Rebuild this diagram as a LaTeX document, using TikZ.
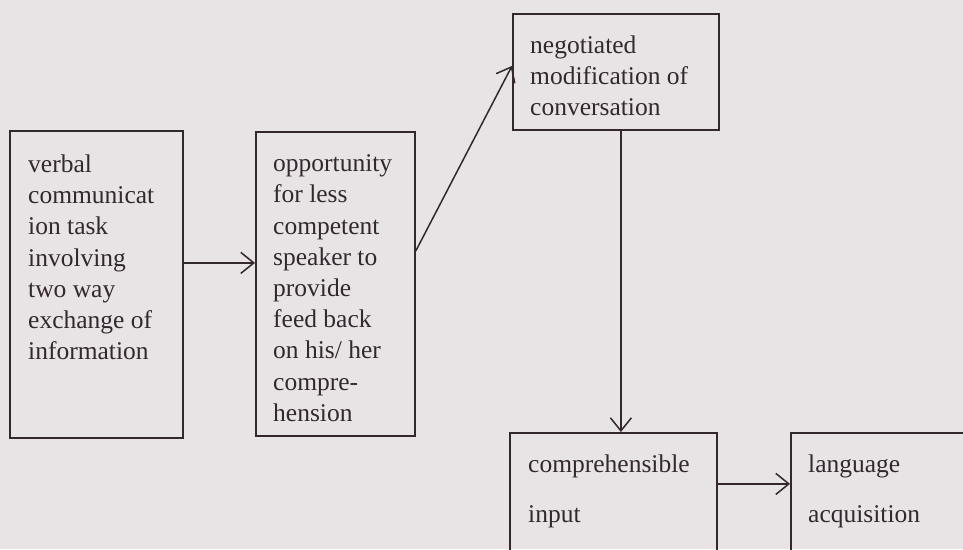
\documentclass[tikz,border=0pt]{standalone}
\usepackage{fontspec}
\setmainfont{Liberation Serif}
\usetikzlibrary{arrows.meta}
\definecolor{paper}{RGB}{232,228,230}
\definecolor{ink}{RGB}{50,40,46}
\tikzset{
  box/.style={draw=ink, line width=1.8pt, anchor=north west, inner sep=0pt},
  txt/.style={anchor=north west, inner sep=0pt, align=left, text=ink,
    font=\fontsize{25.5}{31.2}\selectfont},
  widetxt/.style={txt, font=\fontsize{25.5}{50}\selectfont},
  arr/.style={draw=ink, line width=1.5pt, -{Straight Barb[length=13pt,width=21pt]}}
}
\begin{document}
\begin{tikzpicture}[x=1pt,y=-1pt]
            \fill[paper] (0,0) rectangle (963,549);
            \useasboundingbox (0,0) rectangle (963,549);
            \clip (0,0) rectangle (963,549);

            \node[box, minimum width=173pt, minimum height=307pt] (task) at (9,130) {};
            \node[txt] (tasktxt) at (28,154.6) {verbal\\communicat\\ion task\\involving\\two way\\exchange of\\information};

            \node[box, minimum width=159pt, minimum height=304pt] (opp) at (255,131) {};
            \node[txt] (opptxt) at (273,154.6) {opportunity\\for less\\competent\\speaker to\\provide\\feed back\\on his/ her\\compre-\\hension};

            \node[box, minimum width=206pt, minimum height=116pt] (nego) at (512,13) {};
            \node[txt] (negotxt) at (530,35.6) {negotiated\\modification of\\conversation};

            \node[box, minimum width=207pt, minimum height=140pt] (input) at (509,432) {};
            \node[widetxt] (inputtxt) at (528,454.6) {comprehensible\\input};

            \node[box, minimum width=200pt, minimum height=140pt] (acq) at (790,432) {};
            \node[widetxt] (acqtxt) at (808,454.6) {language\\acquisition};

            \draw[arr] ([yshift=21.5pt]task.east) -- ([yshift=21.5pt]task.east -| opp.west);
            \draw[arr] ([yshift=33pt]opp.east) -- ([yshift=6pt]nego.west);
            \draw[arr] ([xshift=5pt]nego.south) -- ([xshift=5pt]nego.south |- input.north);
            \draw[arr] ([yshift=19pt]input.east) -- ([yshift=19pt]input.east -| acq.west);
\end{tikzpicture}
\end{document}
